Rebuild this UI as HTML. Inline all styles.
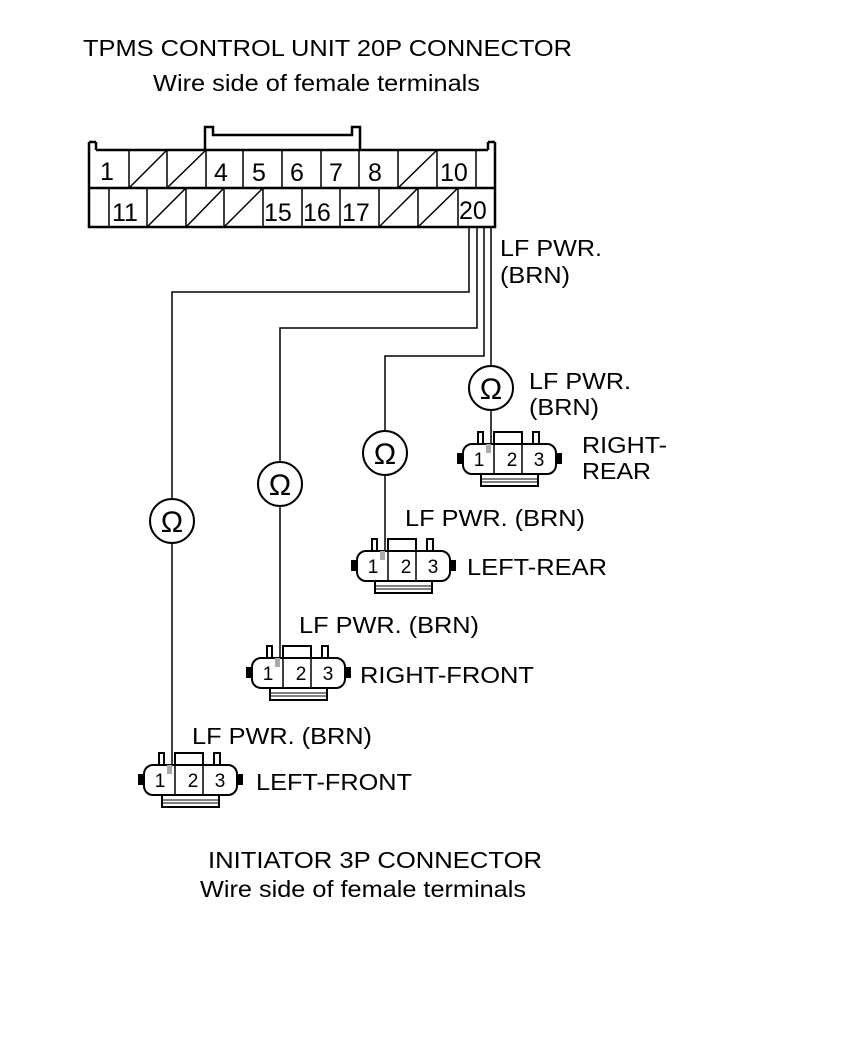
<!DOCTYPE html>
<html><head><style>
body{margin:0;background:#fff;}
svg{display:block;font-family:"Liberation Sans",sans-serif;}
</style></head><body>
<svg width="860" height="1049" viewBox="0 0 860 1049">
<defs>
<g id="conn" stroke="#000" stroke-width="2" fill="#fff">
  <rect x="-33" y="22" width="5" height="9" fill="#000"/>
  <rect x="65" y="22" width="5" height="9" fill="#000"/>
  <rect x="-13" y="0" width="5" height="13"/>
  <rect x="42" y="0" width="6" height="13"/>
  <rect x="3" y="0" width="28" height="13"/>
  <rect x="-10" y="42" width="57" height="12"/>
  <line x1="-10" y1="47" x2="47" y2="47" stroke-width="1"/>
  <line x1="-10" y1="50" x2="47" y2="50" stroke-width="1"/>
  <rect x="-28" y="12" width="93" height="30" rx="9"/>
  <rect x="-5" y="12" width="5" height="9" fill="#aaa" stroke="none"/>
  <line x1="3" y1="12" x2="3" y2="42" stroke-width="1.5"/>
  <line x1="31" y1="12" x2="31" y2="42" stroke-width="1.5"/>
</g>
</defs>
<g font-size="23">
<text x="83" y="56" textLength="489" lengthAdjust="spacingAndGlyphs">TPMS CONTROL UNIT 20P CONNECTOR</text>
<text x="153" y="91" textLength="327" lengthAdjust="spacingAndGlyphs">Wire side of female terminals</text>
</g>

<g stroke="#000" stroke-width="2.5" fill="none">
  <polyline points="205,150 205,127 213,127 213,135 352,135 352,127 360,127 360,150"/>
  <polyline points="89,142 89,227 495,227 495,142"/>
  <line x1="89" y1="142" x2="96" y2="142"/><line x1="96" y1="142" x2="96" y2="150"/>
  <line x1="495" y1="142" x2="488" y2="142"/><line x1="488" y1="142" x2="488" y2="150"/>
  <line x1="96" y1="150" x2="488" y2="150"/>
  <line x1="89" y1="188" x2="495" y2="188"/>
</g>
<g stroke="#000" stroke-width="1.5">
  <line x1="129" y1="150" x2="129" y2="188"/><line x1="167" y1="150" x2="167" y2="188"/>
  <line x1="206" y1="150" x2="206" y2="188"/><line x1="243" y1="150" x2="243" y2="188"/>
  <line x1="282" y1="150" x2="282" y2="188"/><line x1="321" y1="150" x2="321" y2="188"/>
  <line x1="359" y1="150" x2="359" y2="188"/><line x1="398" y1="150" x2="398" y2="188"/>
  <line x1="437" y1="150" x2="437" y2="188"/><line x1="476" y1="150" x2="476" y2="188"/>
  <line x1="129" y1="188" x2="167" y2="150"/><line x1="167" y1="188" x2="206" y2="150"/>
  <line x1="398" y1="188" x2="437" y2="150"/>
  <line x1="109" y1="188" x2="109" y2="227"/><line x1="147" y1="188" x2="147" y2="227"/>
  <line x1="186" y1="188" x2="186" y2="227"/><line x1="224" y1="188" x2="224" y2="227"/>
  <line x1="263" y1="188" x2="263" y2="227"/><line x1="302" y1="188" x2="302" y2="227"/>
  <line x1="340" y1="188" x2="340" y2="227"/><line x1="379" y1="188" x2="379" y2="227"/>
  <line x1="418" y1="188" x2="418" y2="227"/><line x1="458" y1="188" x2="458" y2="227"/>
  <line x1="147" y1="227" x2="186" y2="188"/><line x1="186" y1="227" x2="224" y2="188"/>
  <line x1="224" y1="227" x2="263" y2="188"/><line x1="379" y1="227" x2="418" y2="188"/>
  <line x1="418" y1="227" x2="458" y2="188"/>
</g>
<g font-size="25">
  <text x="100" y="180">1</text><text x="214" y="181">4</text><text x="252" y="181">5</text>
  <text x="290" y="181">6</text><text x="329" y="181">7</text><text x="368" y="181">8</text>
  <text x="440" y="181">10</text>
  <text x="112" y="221">11</text><text x="264" y="221">15</text><text x="303" y="221">16</text>
  <text x="342" y="221">17</text><text x="459" y="219">20</text>
</g>

<g stroke="#000" stroke-width="1.5" fill="none">
  <polyline points="469,227 469,292 172,292 172,765"/>
  <polyline points="477,227 477,328 280,328 280,658"/>
  <polyline points="484,227 484,356 385,356 385,551"/>
  <polyline points="491,227 491,444"/>
</g>
<g stroke="#000" stroke-width="2" fill="#fff">
  <circle cx="491" cy="388" r="22"/><circle cx="385" cy="453" r="22"/>
  <circle cx="280" cy="484" r="22"/><circle cx="172" cy="521" r="22"/>
</g>
<g font-size="30" text-anchor="middle">
  <text x="491" y="399">Ω</text><text x="385" y="464">Ω</text>
  <text x="280" y="495">Ω</text><text x="172" y="532">Ω</text>
</g>

<use href="#conn" x="491" y="432"/>
<use href="#conn" x="385" y="539"/>
<use href="#conn" x="280" y="646"/>
<use href="#conn" x="172" y="753"/>
<g font-size="19" text-anchor="middle">
  <text x="479" y="466">1</text><text x="512" y="466">2</text><text x="539" y="466">3</text>
  <text x="373" y="573">1</text><text x="406" y="573">2</text><text x="433" y="573">3</text>
  <text x="268" y="680">1</text><text x="301" y="680">2</text><text x="328" y="680">3</text>
  <text x="160" y="787">1</text><text x="193" y="787">2</text><text x="220" y="787">3</text>
</g>

<g font-size="23">
  <text x="500" y="256" textLength="102" lengthAdjust="spacingAndGlyphs">LF PWR.</text><text x="500" y="283" textLength="70" lengthAdjust="spacingAndGlyphs">(BRN)</text>
  <text x="529" y="389" textLength="102" lengthAdjust="spacingAndGlyphs">LF PWR.</text><text x="529" y="415" textLength="70" lengthAdjust="spacingAndGlyphs">(BRN)</text>
  <text x="582" y="453" textLength="85" lengthAdjust="spacingAndGlyphs">RIGHT-</text><text x="582" y="479" textLength="69" lengthAdjust="spacingAndGlyphs">REAR</text>
  <text x="405" y="526" textLength="180" lengthAdjust="spacingAndGlyphs">LF PWR. (BRN)</text>
  <text x="467" y="575" textLength="140" lengthAdjust="spacingAndGlyphs">LEFT-REAR</text>
  <text x="299" y="633" textLength="180" lengthAdjust="spacingAndGlyphs">LF PWR. (BRN)</text>
  <text x="360" y="683" textLength="174" lengthAdjust="spacingAndGlyphs">RIGHT-FRONT</text>
  <text x="192" y="744" textLength="180" lengthAdjust="spacingAndGlyphs">LF PWR. (BRN)</text>
  <text x="256" y="790" textLength="156" lengthAdjust="spacingAndGlyphs">LEFT-FRONT</text>
  <text x="208" y="868" textLength="334" lengthAdjust="spacingAndGlyphs">INITIATOR 3P CONNECTOR</text>
  <text x="200" y="897" textLength="326" lengthAdjust="spacingAndGlyphs">Wire side of female terminals</text>
</g>
</svg>
</body></html>
